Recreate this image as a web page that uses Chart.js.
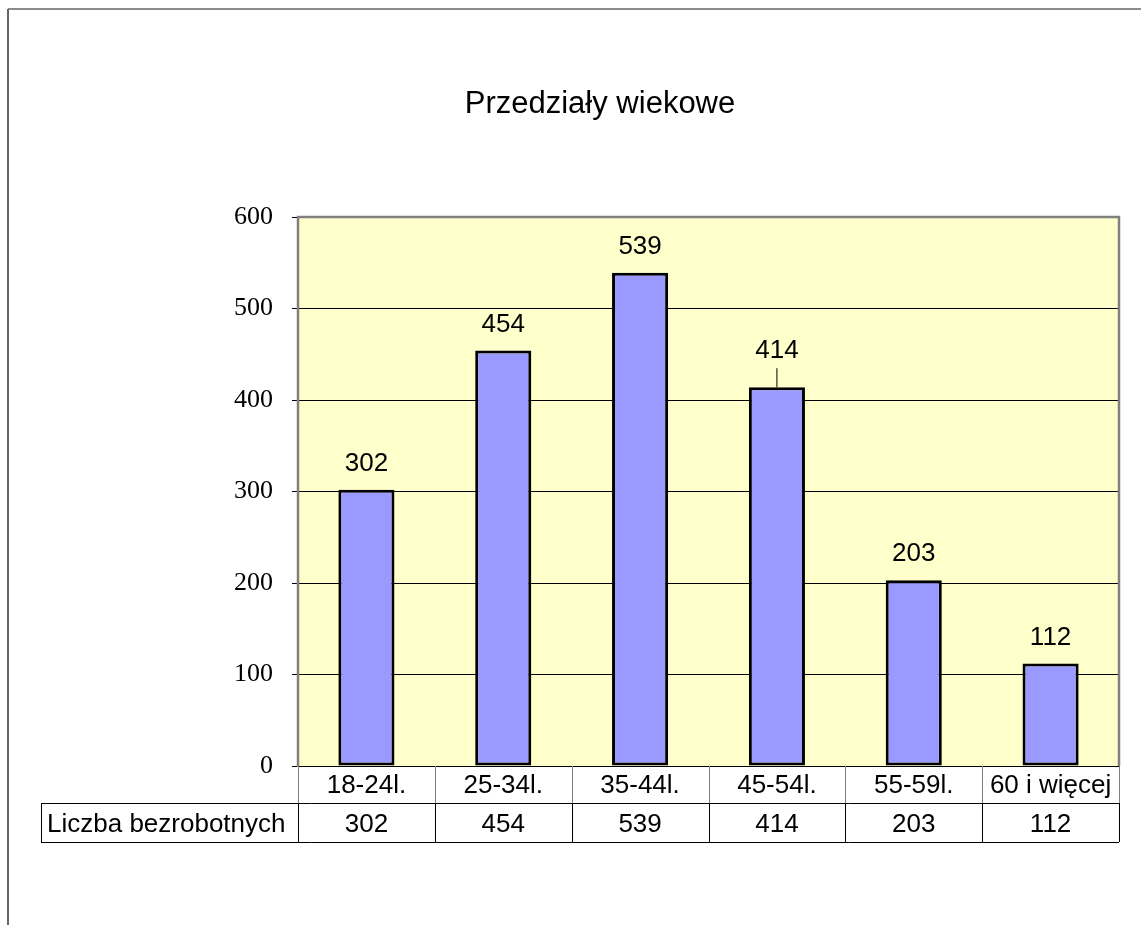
<!DOCTYPE html>
<html>
<head>
<meta charset="utf-8">
<title>Przedziały wiekowe</title>
<script src="https://cdn.jsdelivr.net/npm/chart.js@4"></script>
<style>
  html, body { margin: 0; padding: 0; background: #fff; }
  canvas { display: block; }
</style>
</head>
<body>
<canvas id="ageChart" width="1141" height="925"></canvas>
<script>
const chartTitle = "Przedziały wiekowe";
const seriesName = "Liczba bezrobotnych";
const categories = ["18-24l.", "25-34l.", "35-44l.", "45-54l.", "55-59l.", "60 i więcej"];
const values = [302, 454, 539, 414, 203, 112];
const yTicks = [0, 100, 200, 300, 400, 500, 600];

const SANS = "'Liberation Sans', Arial, sans-serif";
const SERIF = "'Liberation Serif', 'Times New Roman', serif";

// page frame, yellow plot background and plot border
const framePlugin = {
  id: "frame",
  beforeDraw(chart) {
    const { ctx, chartArea: a } = chart;
    ctx.save();
    ctx.fillStyle = "#fff";
    ctx.fillRect(0, 0, chart.width, chart.height);
    ctx.strokeStyle = "#666";
    ctx.lineWidth = 1.5;
    ctx.beginPath();
    ctx.moveTo(8, 9);
    ctx.lineTo(chart.width, 9);
    ctx.stroke();
    ctx.lineWidth = 2;
    ctx.beginPath();
    ctx.moveTo(8, 9);
    ctx.lineTo(8, chart.height);
    ctx.stroke();
    ctx.fillStyle = "#FFFFCC";
    ctx.fillRect(a.left, a.top, a.right - a.left, a.bottom - a.top);

    ctx.fillStyle = "#000";
    ctx.font = "31px " + SANS;
    ctx.textAlign = "center";
    ctx.textBaseline = "alphabetic";
    ctx.fillText(chartTitle, 600, 113);
    ctx.restore();
  },
  afterDraw(chart) {
    const { ctx, chartArea: a } = chart;
    ctx.save();
    ctx.strokeStyle = "#808080";
    ctx.lineWidth = 2.5;
    ctx.beginPath();
    ctx.moveTo(a.left, a.bottom);
    ctx.lineTo(a.left, a.top);
    ctx.lineTo(a.right, a.top);
    ctx.lineTo(a.right, a.bottom);
    ctx.stroke();
    ctx.restore();
  },
};

// value labels above bars
const labelPlugin = {
  id: "barLabels",
  afterDatasetsDraw(chart) {
    const { ctx } = chart;
    const meta = chart.getDatasetMeta(0);
    ctx.save();
    ctx.fillStyle = "#000";
    ctx.strokeStyle = "#000";
    ctx.lineWidth = 1;
    ctx.font = "26px " + SANS;
    ctx.textAlign = "center";
    ctx.textBaseline = "middle";
    meta.data.forEach((bar, i) => {
      let off = 26;
      if (i === 3) {
        // label pushed up with a leader line
        off = 36;
        ctx.beginPath();
        ctx.moveTo(bar.x, bar.y - 19);
        ctx.lineTo(bar.x, bar.y);
        ctx.stroke();
      }
      ctx.fillText(String(values[i]), bar.x, bar.y - off);
    });
    ctx.restore();
  },
};

// data table under the plot
const tablePlugin = {
  id: "dataTable",
  afterDraw(chart) {
    const { ctx, chartArea: a } = chart;
    const n = categories.length;
    const w = (a.right - a.left) / n;
    const r1 = a.bottom;
    const r2 = a.bottom + 37;
    const r3 = a.bottom + 76;
    const labelLeft = 41;

    ctx.save();
    ctx.lineWidth = 1;
    // first row (category names) - grey lines
    ctx.strokeStyle = "#808080";
    for (let i = 0; i <= n; i++) {
      const x = Math.round(a.left + i * w) + 0.5;
      ctx.beginPath();
      ctx.moveTo(x, r1);
      ctx.lineTo(x, r2);
      ctx.stroke();
    }
    // second row - black lines
    ctx.strokeStyle = "#000";
    ctx.beginPath();
    ctx.moveTo(labelLeft, r2 + 0.5);
    ctx.lineTo(a.right, r2 + 0.5);
    ctx.moveTo(labelLeft, r3 + 0.5);
    ctx.lineTo(a.right, r3 + 0.5);
    ctx.moveTo(labelLeft + 0.5, r2);
    ctx.lineTo(labelLeft + 0.5, r3);
    ctx.stroke();
    for (let i = 0; i <= n; i++) {
      const x = Math.round(a.left + i * w) + 0.5;
      ctx.beginPath();
      ctx.moveTo(x, r2);
      ctx.lineTo(x, r3);
      ctx.stroke();
    }

    ctx.fillStyle = "#000";
    ctx.font = "26px " + SANS;
    ctx.textBaseline = "alphabetic";
    ctx.textAlign = "center";
    categories.forEach((c, i) => {
      const cx = a.left + (i + 0.5) * w;
      ctx.fillText(c, cx, r1 + 27);
      ctx.fillText(String(values[i]), cx, r2 + 29);
    });
    ctx.textAlign = "left";
    ctx.fillText(seriesName, labelLeft + 6, r2 + 29);
    ctx.restore();
  },
};

new Chart(document.getElementById("ageChart"), {
  type: "bar",
  data: {
    labels: categories,
    datasets: [
      {
        label: seriesName,
        data: values,
        backgroundColor: "#9999FF",
        borderColor: "#000",
        borderWidth: 3,
        borderSkipped: false,
        barPercentage: 0.41,
        categoryPercentage: 1,
      },
    ],
  },
  options: {
    responsive: false,
    animation: false,
    devicePixelRatio: 1,
    layout: { padding: { left: 0, right: 22, top: 217, bottom: 159 } },
    plugins: {
      legend: { display: false },
      title: { display: false },
      tooltip: { enabled: false },
    },
    scales: {
      x: { display: false },
      y: {
        min: yTicks[0],
        max: yTicks[yTicks.length - 1],
        afterFit: (scale) => {
          scale.width = 298;
        },
        afterBuildTicks: (scale) => {
          scale.ticks = yTicks.map((v) => ({ value: v }));
        },
        ticks: {
          color: "#000",
          padding: 19,
          font: { family: SERIF, size: 26 },
        },
        grid: {
          color: (c) => (c.tick && c.tick.value === 600 ? "#808080" : "#000"),
          lineWidth: 1,
          tickColor: "#000",
          tickLength: 6,
        },
        border: { color: "#808080", width: 2 },
      },
    },
  },
  plugins: [framePlugin, labelPlugin, tablePlugin],
});
</script>
</body>
</html>
